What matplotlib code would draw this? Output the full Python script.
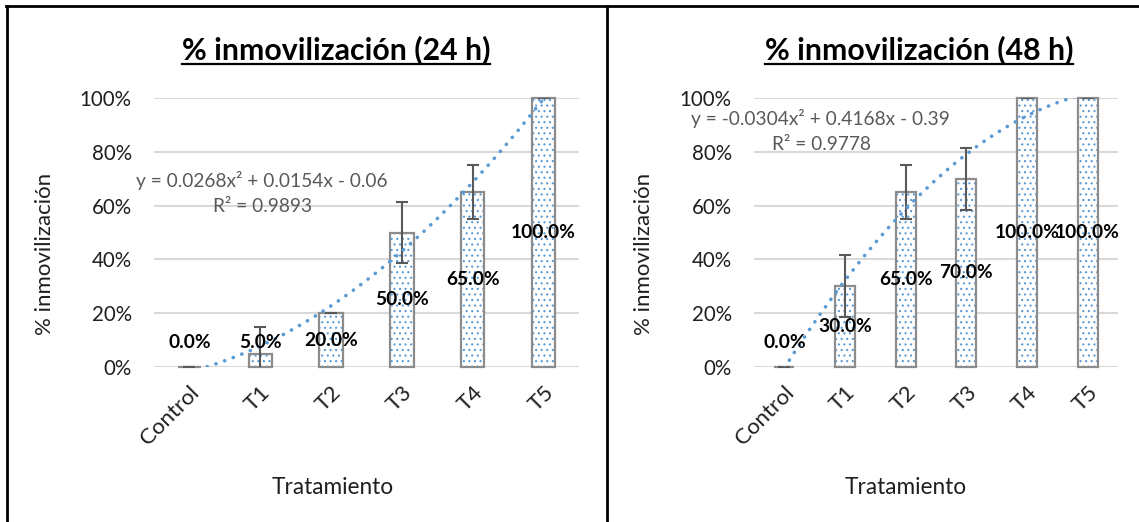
import numpy as np
import matplotlib
matplotlib.use("Agg")
import matplotlib.pyplot as plt
from matplotlib.lines import Line2D

plt.rcParams['font.family'] = ['Lato', 'DejaVu Sans']
plt.rcParams['hatch.linewidth'] = 0.8

# data
categories = ['Control', 'T1', 'T2', 'T3', 'T4', 'T5']
vals_24 = [0.0, 0.05, 0.20, 0.50, 0.65, 1.00]
err_24 = [0.0, 0.10, 0.0, 0.115, 0.10, 0.0]
vals_48 = [0.0, 0.30, 0.65, 0.70, 1.00, 1.00]
err_48 = [0.0, 0.115, 0.10, 0.115, 0.0, 0.0]
# Excel polynomial trend lines (x = 1..6)
coef_24 = [0.0268, 0.0154, -0.06]
coef_48 = [-0.0304, 0.4168, -0.39]
eq_24 = ['y = 0.0268x² + 0.0154x - 0.06', 'R² = 0.9893']
eq_48 = ['y = -0.0304x² + 0.4168x - 0.39', 'R² = 0.9778']
titles = ['% inmovilización (24 h)', '% inmovilización (48 h)']

W, H = 1139, 522
fig = plt.figure(figsize=(W / 100, H / 100), dpi=100)

def fx(px):
    return px / W

def fy(py):
    return 1 - py / H

BLUE = '#5B9BD5'
GRID = '#D9D9D9'
BAR_EDGE = '#8C8C8C'
ERR = '#595959'
TXT = '#1F1F1F'

panels = [
    dict(ax=(154, 579), vals=vals_24, err=err_24, coef=coef_24, eq=eq_24,
         eqpos=(262, 180, 263, 206), title=titles[0], tpos=336, ylab=45, xlab=333),
    dict(ax=(754, 1118), vals=vals_48, err=err_48, coef=coef_48, eq=eq_48,
         eqpos=(820, 118, 821, 144), title=titles[1], tpos=919, ylab=644, xlab=906),
]

title_objs = []
for p in panels:
    x0, x1 = p['ax']
    ax = fig.add_axes([fx(x0), fy(367), fx(x1 - x0), (367 - 98) / H])
    xs = np.arange(len(categories))
    bw = 0.33
    # dotted fill then grey outline
    ax.bar(xs, p['vals'], width=bw, color='white', edgecolor=BLUE, hatch='...',
           linewidth=0, zorder=2, clip_on=False)
    ax.bar(xs, p['vals'], width=bw, fill=False, edgecolor=BAR_EDGE,
           linewidth=1.6, zorder=3, clip_on=False)
    ax.errorbar(xs, p['vals'], yerr=p['err'], fmt='none', ecolor=ERR,
                elinewidth=1.5, capsize=4.5, capthick=1.5, zorder=4)

    # trend line
    t = np.linspace(1, 6, 200)
    a, b, c = p['coef']
    ax.plot(t - 1, a * t**2 + b * t + c, color=BLUE, lw=2.6,
            linestyle=(0, (0.05, 2.5)), dash_capstyle='round', zorder=5)

    for i, v in enumerate(p['vals']):
        ax.text(i, max(v / 2, 0.09), f'{v * 100:.1f}%', ha='center', va='center',
                fontsize=13.8, fontweight='bold', color='black', zorder=6)

    ax.set_xlim(-0.5, len(categories) - 0.5)
    ax.set_ylim(0, 1)
    ax.set_yticks(np.arange(0, 1.01, 0.2))
    ax.set_yticklabels([f'{int(round(v * 100))}%' for v in np.arange(0, 1.01, 0.2)])
    ax.set_xticks(xs)
    ax.set_xticklabels(categories, rotation=45, ha='right', rotation_mode='anchor')
    ax.tick_params(length=0, labelcolor=TXT)
    ax.tick_params(axis='y', pad=16, labelsize=14.8)
    ax.tick_params(axis='x', pad=11, labelsize=16)
    for s in ax.spines.values():
        s.set_visible(False)
    ax.yaxis.grid(True, color=GRID, lw=1.5, zorder=0)
    ax.set_axisbelow(True)

    ex, ey, rx, ry = p['eqpos']
    fig.text(fx(ex), fy(ey), p['eq'][0], ha='center', va='center', fontsize=13.8, color='#595959')
    fig.text(fx(rx), fy(ry), p['eq'][1], ha='center', va='center', fontsize=13.8, color='#595959')

    tt = fig.text(fx(p['tpos']), fy(59), p['title'], ha='center', va='baseline',
                  fontsize=21.8, fontweight='bold', color='black')
    title_objs.append(tt)
    fig.text(fx(p['ylab']), fy(254), '% inmovilización', rotation=90, ha='center',
             va='center', fontsize=16, color=TXT)
    fig.text(fx(p['xlab']), fy(487), 'Tratamiento', ha='center', va='center',
             fontsize=16.3, color=TXT)

# underline the titles
fig.canvas.draw()
r = fig.canvas.get_renderer()
for tt in title_objs:
    bb = tt.get_window_extent(renderer=r)
    fig.add_artist(Line2D([bb.x0 / W, bb.x1 / W], [fy(64)] * 2, color='black', lw=1.6))

# chart frames
fig.add_artist(Line2D([fx(6), 1], [fy(5.5)] * 2, color='black', lw=2))
fig.add_artist(Line2D([fx(7), fx(7)], [0, fy(5.5)], color='black', lw=2))
fig.add_artist(Line2D([fx(607.5), fx(607.5)], [0, fy(5.5)], color='black', lw=2))

fig.savefig('out.png', dpi=100)
